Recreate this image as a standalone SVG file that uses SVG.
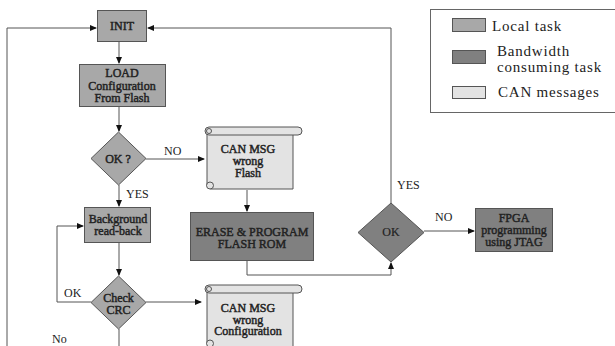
<svg xmlns="http://www.w3.org/2000/svg" width="615" height="346" viewBox="0 0 615 346">
<style>
.local{fill:#a8a8a8;stroke:#555;stroke-width:1}
.bw{fill:#808080;stroke:#555;stroke-width:1}
.can{fill:#e3e3e3;stroke:#555;stroke-width:1}
.conn{fill:none;stroke:#555;stroke-width:1}
text{font-family:"Liberation Serif","Times New Roman",serif}
.t{font-size:12px;fill:#222;stroke:#222;stroke-width:0.45px;text-anchor:middle}
.lbl{font-size:12px;fill:#222}
.leg{font-size:15px;fill:#222;letter-spacing:0.8px}
</style>
<defs>
<marker id="arr" markerUnits="userSpaceOnUse" markerWidth="7" markerHeight="6" refX="6" refY="3" orient="auto">
<path d="M0,0 L7,3 L0,6 Z" fill="#111"/>
</marker>
</defs>
<rect width="615" height="346" fill="#fff"/>

<g id="connectors">
<path class="conn" d="M7,346 V28 H96" marker-end="url(#arr)"/>
<path class="conn" d="M391,203 V28 H148" marker-end="url(#arr)"/>
<path class="conn" d="M119,42 V63" marker-end="url(#arr)"/>
<path class="conn" d="M119,107 V131" marker-end="url(#arr)"/>
<path class="conn" d="M146,159 H204" marker-end="url(#arr)"/>
<path class="conn" d="M119,185 V206" marker-end="url(#arr)"/>
<path class="conn" d="M247,190 V211" marker-end="url(#arr)"/>
<path class="conn" d="M247,261 V275 H391 V263" marker-end="url(#arr)"/>
<path class="conn" d="M424,231 H474" marker-end="url(#arr)"/>
<path class="conn" d="M119,243 V275" marker-end="url(#arr)"/>
<path class="conn" d="M91,302 H57 V226 H83" marker-end="url(#arr)"/>
<path class="conn" d="M146,302 H201" marker-end="url(#arr)"/>
<path class="conn" d="M119,329 V346"/>
<text class="lbl" x="164" y="155">NO</text>
<text class="lbl" x="126" y="198">YES</text>
<text class="lbl" x="64" y="297">OK</text>
<text class="lbl" x="52" y="343">No</text>
<text class="lbl" x="397" y="189">YES</text>
<text class="lbl" x="435" y="221">NO</text>
</g>

<g id="init">
<rect class="local" x="97.5" y="10.5" width="49" height="31"/>
<text class="t" x="122" y="30">INIT</text>
</g>

<g id="load">
<rect class="local" x="79.5" y="64.5" width="86" height="42"/>
<text class="t" x="122" y="77">LOAD</text>
<text class="t" x="122" y="89.5">Configuration</text>
<text class="t" x="122" y="102">From Flash</text>
</g>

<g id="ok1">
<polygon class="local" points="118.5,132 146,158.5 118.5,185 91,158.5"/>
<text class="t" x="118" y="163">OK ?</text>
</g>

<g id="msg-flash">
<path class="can" d="M208,131 H293 V189 H211 A4,4 0 0 1 207,185 V131 Z"/>
<rect class="can" x="205" y="127" width="97" height="8" rx="4"/>
<circle class="can" cx="209" cy="131" r="2.5"/>
<circle class="can" cx="210" cy="185.5" r="3.5"/>
<text class="t" x="248" y="153">CAN MSG</text>
<text class="t" x="248" y="165">wrong</text>
<text class="t" x="248" y="177">Flash</text>
</g>

<g id="background">
<rect class="local" x="84.5" y="207.5" width="66" height="35"/>
<text class="t" x="118" y="223">Background</text>
<text class="t" x="118" y="235">read-back</text>
</g>

<g id="erase">
<rect class="bw" x="190.5" y="212.5" width="123" height="48"/>
<text class="t" x="252" y="236">ERASE &amp; PROGRAM</text>
<text class="t" x="252" y="248">FLASH ROM</text>
</g>

<g id="crc">
<polygon class="local" points="118.5,276 146,302.5 118.5,329 91,302.5"/>
<text class="t" x="118.5" y="302">Check</text>
<text class="t" x="118.5" y="314">CRC</text>
</g>

<g id="msg-config">
<path class="can" d="M208,289 H293 V347 H211 A4,4 0 0 1 207,343 V289 Z"/>
<rect class="can" x="205" y="285" width="97" height="8" rx="4"/>
<circle class="can" cx="209" cy="289" r="2.5"/>
<circle class="can" cx="210" cy="343.5" r="3.5"/>
<text class="t" x="248" y="312">CAN MSG</text>
<text class="t" x="248" y="323.5">wrong</text>
<text class="t" x="248" y="335">Configuration</text>
</g>

<g id="ok2">
<polygon class="bw" points="391,203 424,232.5 391,262 358,232.5"/>
<text class="t" x="391" y="236" style="stroke-width:0.2px">OK</text>
</g>

<g id="fpga">
<rect class="bw" x="475.5" y="208.5" width="77" height="43"/>
<text class="t" x="514" y="222">FPGA</text>
<text class="t" x="514" y="234">programming</text>
<text class="t" x="514" y="246">using JTAG</text>
</g>

<g id="legend">
<rect x="430.5" y="9.5" width="190" height="103" fill="#fff" stroke="#666" stroke-width="1"/>
<rect class="local" x="452.5" y="18.5" width="33" height="13"/>
<rect class="bw" x="452.5" y="50.5" width="33" height="13"/>
<rect class="can" x="452.5" y="86.5" width="33" height="12"/>
<text class="leg" x="492" y="31">Local task</text>
<text class="leg" x="497" y="56">Bandwidth</text>
<text class="leg" x="497" y="72">consuming task</text>
<text class="leg" x="498" y="97">CAN messages</text>
</g>
</svg>
